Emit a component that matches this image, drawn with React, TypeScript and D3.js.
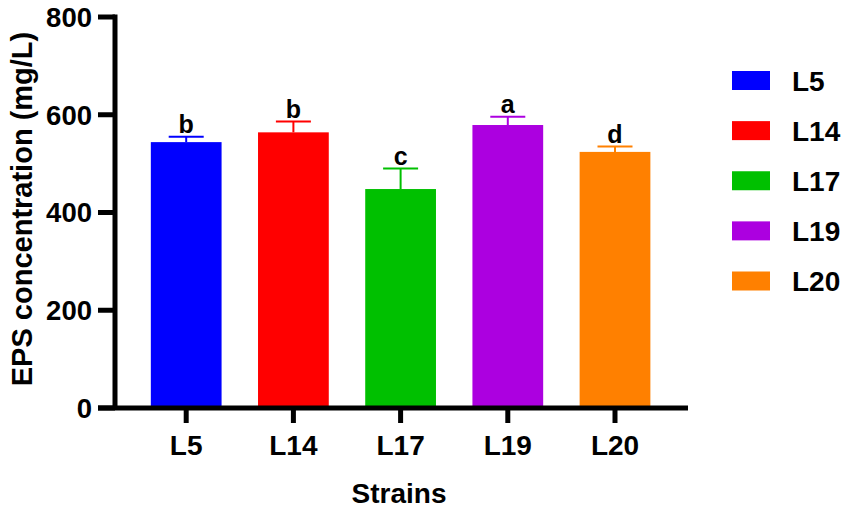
import * as React from "react";
import * as d3 from "d3";

const strains = ["L5", "L14", "L17", "L19", "L20"];
const eps = [544, 564, 448, 579, 524];
const epsErr = [11, 22, 42, 17, 11];
const letters = ["b", "b", "c", "a", "d"];
const colors = ["#0000ff", "#ff0000", "#00c000", "#ac00e0", "#ff8000"];
const yTicks = [0, 200, 400, 600, 800];

const W = 851;
const H = 516;
const font = "'Liberation Sans', Arial, sans-serif";

export default function App() {
    const x = d3.scaleBand().domain(strains).range([132.6, 668.6]).paddingInner(0.34).paddingOuter(0.17);
    const y = d3.scaleLinear().domain([0, 800]).range([408, 17]);
    const legendY = d3.scalePoint().domain(strains).range([71, 271.5]);

    const axisX = 115;
    const baseY = y(0);

    return (
        <svg width={W} height={H} style={{ position: "absolute", left: 0, top: 0, background: "#fff" }}
            fontFamily={font} fontWeight="bold">
            {/* bars */}
            {strains.map((s, i) => {
                const cx = x(s) + x.bandwidth() / 2;
                const top = y(eps[i] + epsErr[i]);
                return (
                    <g key={s}>
                        <rect x={x(s)} y={y(eps[i])} width={x.bandwidth()} height={baseY - y(eps[i])} fill={colors[i]} />
                        <line x1={cx} x2={cx} y1={y(eps[i])} y2={top} stroke={colors[i]} strokeWidth={2} />
                        <line x1={cx - 17.5} x2={cx + 17.5} y1={top} y2={top} stroke={colors[i]} strokeWidth={2} />
                        <text x={cx} y={top - 4} textAnchor="middle" fontSize={25}>{letters[i]}</text>
                    </g>
                );
            })}

            {/* y axis */}
            <line x1={axisX} x2={axisX} y1={y(800) - 2.5} y2={baseY} stroke="#000" strokeWidth={5} />
            {yTicks.map(t => (
                <g key={t}>
                    <line x1={98} x2={axisX} y1={y(t)} y2={y(t)} stroke="#000" strokeWidth={5} />
                    <text x={92} y={y(t)} dy="0.36em" textAnchor="end" fontSize={27.5}>{t}</text>
                </g>
            ))}
            <text transform={`translate(32,${209}) rotate(-90)`} textAnchor="middle" fontSize={29}>
                EPS concentration (mg/L)
            </text>

            {/* x axis */}
            <line x1={98} x2={688} y1={baseY} y2={baseY} stroke="#000" strokeWidth={5} />
            {strains.map(s => {
                const cx = x(s) + x.bandwidth() / 2;
                return (
                    <g key={s}>
                        <line x1={cx} x2={cx} y1={baseY} y2={423} stroke="#000" strokeWidth={5} />
                        <text x={cx} y={455} textAnchor="middle" fontSize={28}>{s}</text>
                    </g>
                );
            })}
            <text x={399} y={502.5} textAnchor="middle" fontSize={28}>Strains</text>

            {/* legend */}
            {strains.map((s, i) => (
                <g key={s}>
                    <rect x={732} y={legendY(s)} width={38} height={19} fill={colors[i]} />
                    <text x={792} y={legendY(s) + 19.5} fontSize={28}>{s}</text>
                </g>
            ))}
        </svg>
    );
}
